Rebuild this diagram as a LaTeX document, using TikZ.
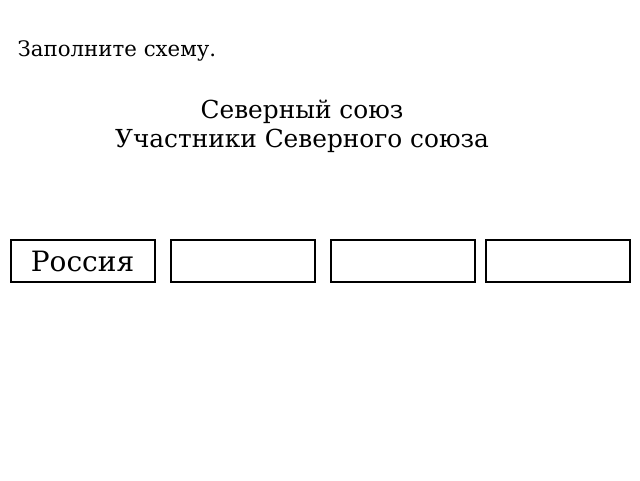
\documentclass[tikz,border=0pt]{standalone}
\usepackage{fontspec}
\setmainfont{DejaVu Serif}
\usetikzlibrary{positioning}

\begin{document}
\begin{tikzpicture}[x=1pt,y=-1pt]

    \tikzset
    {
        member/.style={draw, line width=2pt, minimum width=144pt, minimum height=42pt, inner sep=0pt, font={\fontsize{28}{32}\selectfont}},
        heading/.style={align=center, inner sep=0pt, font={\fontsize{24.8}{29}\selectfont}}
    }

    \useasboundingbox[fill=white] (0,0) rectangle (640,480);

    \node[anchor=base west, inner sep=0pt, font={\fontsize{21.3}{24}\selectfont}] (task) at (17.5,56.5) {Заполните схему.};

    \node[heading, anchor=base] (title) at (302,147) {Северный союз\\Участники Северного союза};

    \node[member] (russia) at (82.5,261) {\raisebox{-1pt}{Россия}};
    \node[member] (m2) at (243,261) {};
    \node[member] (m3) at (402.5,261) {};
    \node[member] (m4) at (557.5,261) {};

\end{tikzpicture}
\end{document}
